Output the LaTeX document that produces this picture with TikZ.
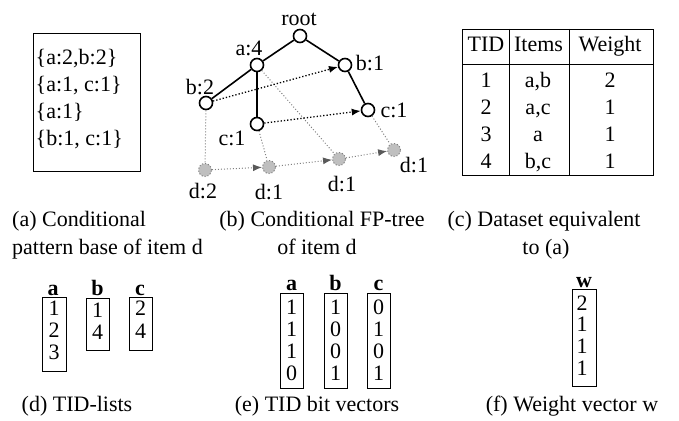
\documentclass[tikz,border=0pt]{standalone}
\usepackage{fontspec}
\setmainfont{Liberation Serif}
\usetikzlibrary{arrows.meta}

\begin{document}
\begin{tikzpicture}[x=1pt,y=-1pt,
  every node/.style={font=\fontsize{22}{27}\selectfont, inner sep=0pt},
  txt/.style={anchor=base},
  txtl/.style={anchor=base west},
  lbl/.style={anchor=base, font=\fontsize{22}{27}\selectfont\bfseries},
  frame/.style={draw=black, line width=0.8pt},
  treenode/.style={circle, draw=black, fill=white, line width=1.6pt, minimum size=13pt},
  dnode/.style={circle, draw=gray, fill=black!25, dotted, line width=1pt, minimum size=13pt},
  treeedge/.style={line width=1.6pt},
  linkarrow/.style={dotted, line width=1.3pt, -{Latex[length=9pt,width=7pt]}},
  dline/.style={draw=gray, dotted, line width=1pt},
  darrow/.style={draw=gray, dotted, line width=1pt, -{Latex[length=9pt,width=7pt,color=black!65]}}
]
\useasboundingbox (0,0) rectangle (679,420);

% ---------- (a) conditional pattern base ----------
\draw[frame] (33,33) rectangle (140,171);
\node[txtl] (pa1) at (35.5,64) {\{a:2,b:2\}};
\node[txtl] (pa2) at (35.5,91) {\{a:1, c:1\}};
\node[txtl] (pa3) at (35.5,118) {\{a:1\}};
\node[txtl] (pa4) at (35.5,145) {\{b:1, c:1\}};
\node[txtl] (capa1) at (12,226) {(a) Conditional};
\node[txtl] (capa2) at (12,254) {pattern base of item d};

% ---------- (b) conditional FP-tree ----------
\node[treenode] (root) at (300,36) {};
\node[treenode] (a4) at (257,65) {};
\node[treenode] (b2) at (206,103) {};
\node[treenode] (c1l) at (257,124) {};
\node[treenode] (b1) at (345,65) {};
\node[treenode] (c1r) at (368,110) {};
\node[dnode] (d2) at (205,170) {};
\node[dnode] (d1a) at (269,167) {};
\node[dnode] (d1b) at (339,159) {};
\node[dnode] (d1c) at (394,150) {};

\node (lroot) at (299,19) {root};
\node (la4) at (249,48) {a:4};
\node (lb2) at (200,87) {b:2};
\node (lc1l) at (232,138) {c:1};
\node (lb1) at (370,63) {b:1};
\node (lc1r) at (394,110) {c:1};
\node (ld2) at (203,191) {d:2};
\node (ld1a) at (269,192) {d:1};
\node (ld1b) at (342,184) {d:1};
\node (ld1c) at (414,165) {d:1};

% node-links between items of the same name
\draw[dline] (b2) -- (d2);
\draw[dline] (c1l) -- (d1a);
\draw[dline] (a4) -- (d1b);
\draw[dline] (c1r) -- (d1c);
\draw[darrow] (d2) -- (d1a);
\draw[darrow] (d1a) -- (d1b);
\draw[darrow] (d1b) -- (d1c);
\draw[linkarrow] (b2) -- (b1);
\draw[linkarrow] (c1l) -- (c1r);

% tree edges
\draw[treeedge] (root) -- (a4);
\draw[treeedge] (root) -- (b1);
\draw[treeedge] (a4) -- (b2);
\draw[treeedge] (a4) -- (c1l);
\draw[treeedge] (b1) -- (c1r);

\node[txt] (capb1) at (322,226) {(b) Conditional FP-tree};
\node[txt] (capb2) at (317,254) {of item d};

% ---------- (c) dataset table ----------
\draw[frame] (462,29) rectangle (653,175);
\draw[frame] (462,64) -- (653,64);
\draw[frame] (509,29) -- (509,175);
\draw[frame] (569,29) -- (569,175);
\node[txt] (htid) at (486,52) {TID};
\node[txt] (hitems) at (538.5,52) {Items};
\node[txt] (hweight) at (610,52) {Weight};
\foreach \t/\i/\w/\yy in {1/{a,b}/2/87, 2/{a,c}/1/114, 3/a/1/141, 4/{b,c}/1/168}{
  \node[txt] (tid\t) at (486,\yy) {\t};
  \node[txt] (items\t) at (538,\yy) {\i};
  \node[txt] (weight\t) at (610,\yy) {\w};
}
\node[txt] (capc1) at (544,226) {(c) Dataset equivalent};
\node[txt] (capc2) at (546,254) {to (a)};

% ---------- (d) TID-lists ----------
\draw[frame] (42,297) rectangle (66,371);
\draw[frame] (86,298) rectangle (109,350);
\draw[frame] (129,297) rectangle (152,350);
\node[lbl] (dla) at (53,295) {a};
\node[lbl] (dlb) at (97.5,295) {b};
\node[lbl] (dlc) at (140,295) {c};
\node[txt] (da1) at (54,315) {1};
\node[txt] (da2) at (54,337) {2};
\node[txt] (da3) at (54,359) {3};
\node[txt] (db1) at (97.5,317) {1};
\node[txt] (db2) at (97.5,339) {4};
\node[txt] (dc1) at (140.5,315) {2};
\node[txt] (dc2) at (140.5,338) {4};
\node[txt] (capd) at (77,411) {(d) TID-lists};

% ---------- (e) TID bit vectors ----------
\draw[frame] (280,293) rectangle (303,388);
\draw[frame] (324,293) rectangle (347,388);
\draw[frame] (367,293) rectangle (390,388);
\node[lbl] (ela) at (291.5,290) {a};
\node[lbl] (elb) at (335.5,290) {b};
\node[lbl] (elc) at (378.5,290) {c};
\foreach \a/\b/\c/\k/\yy in {1/1/0/1/314, 1/0/1/2/336, 1/0/0/3/358, 0/1/1/4/380}{
  \node[txt] (ea\k) at (291.5,\yy) {\a};
  \node[txt] (eb\k) at (335.5,\yy) {\b};
  \node[txt] (ec\k) at (378.5,\yy) {\c};
}
\node[txt] (cape) at (317,411) {(e) TID bit vectors};

% ---------- (f) weight vector ----------
\draw[frame] (572,289) rectangle (596,386);
\node[lbl] (flw) at (584,287) {w};
\node[txt] (fw1) at (582,310) {2};
\node[txt] (fw2) at (582,331.7) {1};
\node[txt] (fw3) at (582,353.3) {1};
\node[txt] (fw4) at (582,375) {1};
\node[txt] (capf) at (572,411) {(f) Weight vector w};
\end{tikzpicture}
\end{document}
